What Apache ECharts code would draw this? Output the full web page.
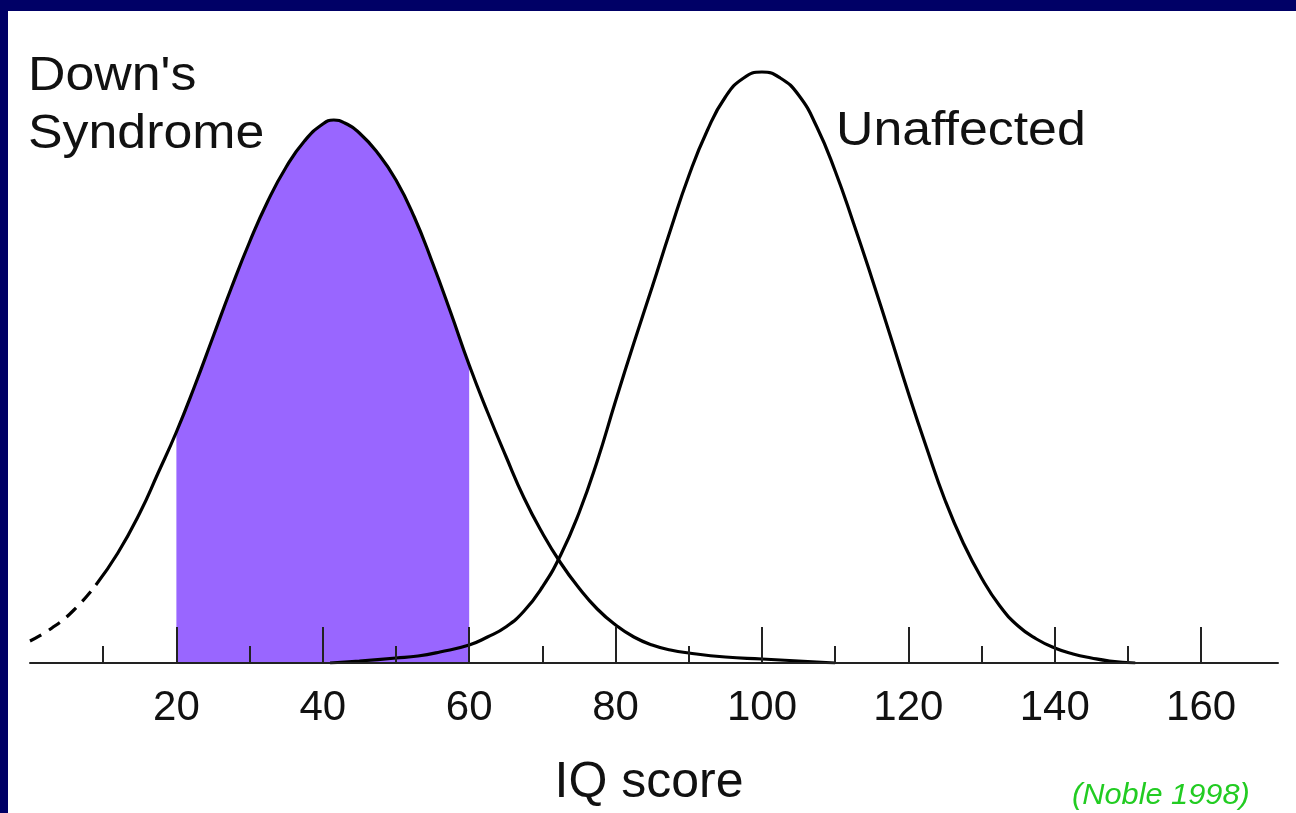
<!DOCTYPE html>
<html>
<head>
<meta charset="utf-8">
<script src="https://cdn.jsdelivr.net/npm/echarts@6/dist/echarts.min.js"></script>
<style>
  html, body { margin: 0; padding: 0; background: #ffffff; }
  #chart { width: 1296px; height: 813px; }
</style>
</head>
<body>
<div id="chart"></div>
<script>
// ---- data ----
const majorTicks = [20, 40, 60, 80, 100, 120, 140, 160];
const minorTicks = [10, 30, 50, 70, 90, 110, 130, 150];

// Down's Syndrome curve (IQ score, relative height)
const downX = [0, 3, 6, 9, 12, 15, 17.5, 20, 22.5, 25, 27.5, 30, 32.5, 35, 37.5, 40, 41.5, 43, 45, 47.5, 50, 52.5, 55, 57.5, 60, 62.5, 65, 67.5, 70, 72.5, 75, 77.5, 80, 82.5, 85, 87.5, 90, 95, 100, 105, 110];
const downY = [22, 35, 53, 78, 110, 150, 190, 231, 277, 326, 375, 421, 462, 496, 522, 539, 543, 540, 530, 510, 483, 446, 400, 350, 298, 251, 207, 165, 130, 100, 75, 54, 38, 26, 18, 13, 10, 6, 4, 2, 0];
const dashedEnd = 9;          // curve is dashed below this IQ
const shadeFrom = 20, shadeTo = 60;

// Unaffected curve
const unX = [41, 45, 50, 53, 56, 60, 62.5, 65, 67.5, 70, 72.5, 75, 77.5, 80, 82.5, 85, 87.5, 90, 92.5, 95, 97.5, 100, 102.5, 105, 107.5, 110, 112.5, 115, 117.5, 120, 122.5, 125, 127.5, 130, 132.5, 135, 137.5, 140, 142.5, 145, 147.5, 151];
const unY = [0, 2, 5, 7, 11, 18, 26, 36, 52, 76, 108, 150, 202, 262, 320, 376, 433, 487, 532, 566, 585, 591, 585, 568, 536, 492, 440, 385, 328, 270, 215, 163, 120, 85, 57, 37, 24, 15, 9, 5, 2, 0];

const labelDown = "Down's\nSyndrome";
const labelUn = "Unaffected";
const axisTitle = "IQ score";
const source = "(Noble 1998)";

// ---- build series data ----
const pairs = (xs, ys) => xs.map((x, i) => [x, ys[i]]);
const downAll = pairs(downX, downY);
const downDashed = downAll.filter(p => p[0] <= dashedEnd);
const downSolid = downAll.filter(p => p[0] >= dashedEnd);
const downShade = downAll.filter(p => p[0] >= shadeFrom && p[0] <= shadeTo);
const unAll = pairs(unX, unY);

const FONT = '"Liberation Sans", Arial, Helvetica, sans-serif';
const SMOOTH = 0.5;
const chart = echarts.init(document.getElementById('chart'), null, { renderer: 'canvas' });

chart.setOption({
  backgroundColor: '#ffffff',
  animation: false,
  grid: { left: 30, right: 18, top: 63, bottom: 150 },
  xAxis: [
    {
      type: 'value', min: 0, max: 170.5, z: 5,
      axisLine: { show: true, lineStyle: { color: '#222', width: 2 } },
      axisTick: { show: true, inside: true, length: 36, customValues: majorTicks, lineStyle: { color: '#222', width: 2 } },
      axisLabel: { show: true, customValues: majorTicks, margin: 24, fontSize: 42, color: '#111', fontFamily: FONT },
      splitLine: { show: false },
      name: axisTitle, nameLocation: 'middle', nameGap: 95,
      nameTextStyle: { fontSize: 50, color: '#111', fontFamily: FONT, padding: [0, 10, 0, 0] }
    },
    {
      type: 'value', min: 0, max: 170.5, z: 5, position: 'bottom',
      axisLine: { show: false },
      axisTick: { show: true, inside: true, length: 17, customValues: minorTicks, lineStyle: { color: '#222', width: 2 } },
      axisLabel: { show: false },
      splitLine: { show: false }
    }
  ],
  yAxis: { type: 'value', min: 0, max: 600, show: false, splitLine: { show: false } },
  series: [
    {
      type: 'line', data: downShade, smooth: SMOOTH, symbol: 'none', z: 1,
      lineStyle: { width: 0, opacity: 0 },
      areaStyle: { color: '#9966ff', opacity: 1 }
    },
    {
      type: 'line', data: downDashed, smooth: SMOOTH, symbol: 'none', z: 3,
      lineStyle: { color: '#000', width: 3.2, type: [13, 9] }
    },
    {
      type: 'line', data: downSolid, smooth: SMOOTH, symbol: 'none', z: 3,
      lineStyle: { color: '#000', width: 3.2 }
    },
    {
      type: 'line', data: unAll, smooth: SMOOTH, symbol: 'none', z: 3,
      lineStyle: { color: '#000', width: 3.2 }
    }
  ],
  graphic: [
    { type: 'rect', left: 0, top: 0, shape: { width: 1296, height: 11 }, style: { fill: '#000066' }, z: 100 },
    { type: 'rect', left: 0, top: 0, shape: { width: 8, height: 813 }, style: { fill: '#000066' }, z: 100 },
    { type: 'text', x: 28, y: 48, scaleX: 1.08, z: 50,
      style: { text: labelDown, font: '48px ' + FONT, fill: '#111', lineHeight: 58 } },
    { type: 'text', x: 836, y: 108, scaleX: 1.08, z: 50,
      style: { text: labelUn, font: '48px ' + FONT, fill: '#111' } },
    { type: 'text', x: 1072, y: 781, scaleX: 1.06, z: 50,
      style: { text: source, font: 'italic 29px ' + FONT, fill: '#22cc22' } }
  ]
});
</script>
</body>
</html>
